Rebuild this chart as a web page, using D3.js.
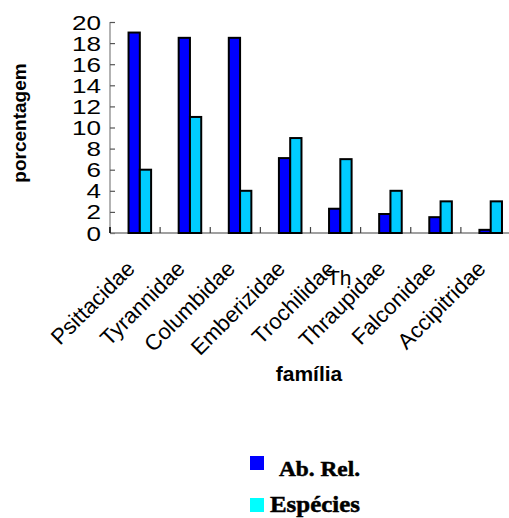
<!DOCTYPE html>
<html>
<head>
<meta charset="utf-8">
<script src="https://cdn.jsdelivr.net/npm/d3@7"></script>
<style>
  html, body { margin: 0; padding: 0; background: #fff; }
  svg { display: block; }
</style>
</head>
<body>
<svg id="chart" width="509" height="518"></svg>
<script>
// Bird families and their share (%) of abundance and of species
const families = ["Psittacidae", "Tyrannidae", "Columbidae", "Emberizidae",
                  "Trochilidae", "Thraupidae", "Falconidae", "Accipitridae"];
const abRel    = [19, 18.5, 18.5, 7.1, 2.3, 1.8, 1.5, 0.3];
const especies = [6, 11, 4, 9, 7, 4, 3, 3];
const yTicks   = [0, 2, 4, 6, 8, 10, 12, 14, 16, 18, 20];
const seriesNames = ["Ab. Rel.", "Espécies"];

const svg = d3.select("#chart");
const sans = "Liberation Sans, Arial, sans-serif";
const serif = "Liberation Serif, Times New Roman, serif";

const x = d3.scaleBand().domain(families).range([110, 511]).padding(0);
const y = d3.scaleLinear().domain([0, 20]).range([233, 22]);
const bw = x.bandwidth();

// y axis: gray line, short ticks pointing into the plot
const yAxis = svg.append("g").attr("transform", "translate(110,0)")
  .call(d3.axisRight(y).tickValues(yTicks).tickSize(5).tickFormat(""));
yAxis.select(".domain").attr("stroke", "#808080").attr("stroke-width", 1.2)
  .attr("d", `M0,${y(20)}V${y(0)}`);
yAxis.selectAll(".tick line").attr("stroke", "#555").attr("stroke-width", 1.2);

// wide tick numerals
svg.append("g").selectAll("text").data(yTicks).join("text")
  .attr("x", 101).attr("y", d => y(d) + 7.5)
  .attr("text-anchor", "end")
  .attr("font-family", sans).attr("font-size", 21)
  .attr("textLength", d => String(d).length * 14.5)
  .attr("lengthAdjust", "spacingAndGlyphs")
  .text(d => d);

// x axis baseline with tick marks at category boundaries
const bounds = families.map(f => x(f)).concat([x.range()[1]]);
svg.append("line")
  .attr("x1", 110).attr("x2", 509).attr("y1", y(0)).attr("y2", y(0))
  .attr("stroke", "#808080").attr("stroke-width", 1.5);
svg.append("g").selectAll("line").data(bounds.slice(1, 9)).join("line")
  .attr("x1", d => d).attr("x2", d => d)
  .attr("y1", y(0)).attr("y2", y(0) - 6)
  .attr("stroke", "#444").attr("stroke-width", 1.2);
svg.append("line").attr("x1", 110).attr("x2", 110).attr("y1", y(0) - 6).attr("y2", y(0))
  .attr("stroke", "#000").attr("stroke-width", 1.5);

// bars
const barW = bw * 0.225;
const off = bw * 0.37;
const bars = svg.append("g").attr("stroke", "#000").attr("stroke-width", 2);
bars.selectAll("rect.ab").data(abRel).join("rect").attr("class", "ab")
  .attr("x", (d, i) => x(families[i]) + off)
  .attr("y", d => y(d)).attr("width", barW)
  .attr("height", d => y(0) - y(d))
  .attr("fill", "#0000ff");
bars.selectAll("rect.sp").data(especies).join("rect").attr("class", "sp")
  .attr("x", (d, i) => x(families[i]) + off + barW)
  .attr("y", d => y(d)).attr("width", barW)
  .attr("height", d => y(0) - y(d))
  .attr("fill", "#00ccff");

// rotated category labels
svg.append("g").selectAll("text").data(families).join("text")
  .attr("transform", d => `translate(${x(d) + bw / 2 + 1},${y(0) + 37}) rotate(-45)`)
  .attr("text-anchor", "end")
  .attr("font-family", sans).attr("font-size", 22)
  .text(d => d);
// stray unrotated fragment over the Thraupidae label
svg.append("text").attr("x", 327).attr("y", 285)
  .attr("font-family", sans).attr("font-size", 21).text("Th");

// axis titles
svg.append("text").attr("x", 309).attr("y", 381)
  .attr("text-anchor", "middle").attr("font-family", sans)
  .attr("font-weight", "bold").attr("font-size", 21).text("família");
svg.append("text")
  .attr("transform", "translate(26,123) rotate(-90)")
  .attr("text-anchor", "middle").attr("font-family", sans)
  .attr("font-weight", "bold").attr("font-size", 19).text("porcentagem");

// legend
const legColors = ["#0000ff", "#00ffff"];
const legY = [456, 498];
const legBase = [476, 512];
const legTextX = [279, 270];
const legTextW = [81, 90];
const legSize = [22, 24];
const leg = svg.append("g");
leg.selectAll("rect").data(seriesNames).join("rect")
  .attr("x", 250).attr("y", (d, i) => legY[i])
  .attr("width", 14).attr("height", 14)
  .attr("fill", (d, i) => legColors[i]);
leg.selectAll("text").data(seriesNames).join("text")
  .attr("x", (d, i) => legTextX[i]).attr("y", (d, i) => legBase[i])
  .attr("font-family", serif).attr("font-weight", "bold")
  .attr("font-size", (d, i) => legSize[i])
  .attr("stroke", "#000").attr("stroke-width", 0.5)
  .attr("textLength", (d, i) => legTextW[i])
  .attr("lengthAdjust", "spacingAndGlyphs")
  .text(d => d);
</script>
</body>
</html>
